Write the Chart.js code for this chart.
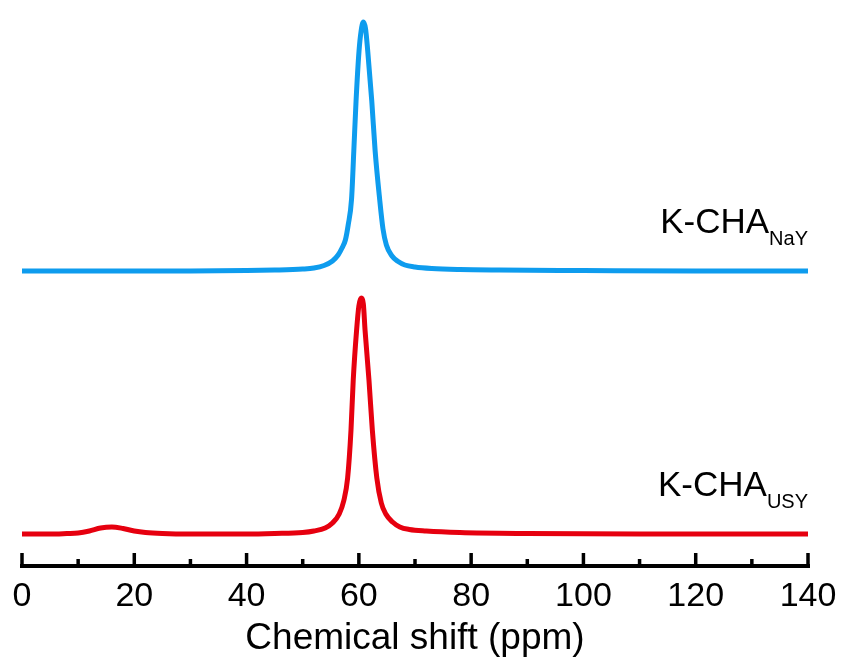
<!DOCTYPE html>
<html>
<head>
<meta charset="utf-8">
<script src="https://cdn.jsdelivr.net/npm/chart.js@4/dist/chart.umd.min.js"></script>
<style>
  html, body { margin: 0; padding: 0; background: #ffffff; }
  #wrap { width: 843px; height: 666px; position: relative; }
</style>
</head>
<body>
<div id="wrap"><canvas id="c" width="843" height="666"></canvas></div>
<script>
// ---- Data ----
const xTickValues = [0, 20, 40, 60, 80, 100, 120, 140];
const xMinorTickValues = [10, 30, 50, 70, 90, 110, 130];
const xTitle = 'Chemical shift (ppm)';

// K-CHA(NaY) spectrum: chemical shift (ppm) and intensity above its own baseline
const nayShift = [0, 10, 20, 30, 40, 45, 50, 52, 53.8, 55.3, 56.3, 57.0, 57.6, 58.1, 58.7, 59.1, 59.5, 60.03, 60.4, 60.8, 61.2, 61.58, 62.3, 62.9, 63.7, 64.3, 64.9, 65.9, 67, 68.2, 70, 73, 78, 85, 100, 120, 140];
const nayIntensity = [0, 0, 0, 0, 0.5, 1, 2, 3, 5.5, 10, 16, 23, 31, 46, 72, 120, 170, 220, 240, 249, 242, 220, 170, 120, 72, 42, 26, 15, 9.5, 6, 4, 2.5, 1.5, 1, 0.5, 0, 0];
const nayOffset = 295;

// K-CHA(USY) spectrum
const usyShift = [0, 5, 8, 10, 12, 14, 16, 18, 20, 22, 25, 30, 40, 45, 50, 52, 54, 55.3, 56.5, 57.3, 58.0, 58.6, 59.0, 59.6, 60.0, 60.4, 60.8, 61.1, 61.8, 62.4, 63.2, 64.0, 64.8, 66, 67.3, 69, 72, 78, 90, 110, 140];
const usyIntensity = [0, 0, 0.5, 1, 3, 6, 7, 5.5, 3, 1.5, 0.5, 0, 0, 0.5, 1.5, 3, 6, 11, 20, 33, 56, 104, 154, 204, 228, 236, 230, 204, 154, 104, 56, 31, 20, 12, 7, 4.5, 3, 1.5, 0.5, 0, 0];
const usyOffset = 32;

const seriesMain = ['K-CHA', 'K-CHA'];
const seriesSub = ['NaY', 'USY'];
const seriesColors = ['#0E9CEE', '#E6000F'];

// ---- Build datasets ----
function pts(xs, ys, off) { return xs.map((x, i) => ({ x: x, y: ys[i] + off })); }

const FONT = '"Liberation Sans", Arial, Helvetica, sans-serif';

const axisPlugin = {
  id: 'axisPlugin',
  afterDraw(chart) {
    const ctx = chart.ctx;
    const xs = chart.scales.x;
    const ys = chart.scales.y;
    const yb = chart.chartArea.bottom;
    ctx.save();
    ctx.strokeStyle = '#000';
    ctx.lineWidth = 4;
    ctx.lineCap = 'butt';
    ctx.beginPath();
    ctx.moveTo(xs.getPixelForValue(xTickValues[0]) - 2, yb);
    ctx.lineTo(xs.getPixelForValue(xTickValues[xTickValues.length - 1]) + 2, yb);
    ctx.stroke();
    ctx.lineWidth = 3.5;
    xTickValues.forEach(v => {
      const px = xs.getPixelForValue(v);
      ctx.beginPath(); ctx.moveTo(px, yb); ctx.lineTo(px, yb - 13); ctx.stroke();
    });
    xMinorTickValues.forEach(v => {
      const px = xs.getPixelForValue(v);
      ctx.beginPath(); ctx.moveTo(px, yb); ctx.lineTo(px, yb - 7); ctx.stroke();
    });

    // series labels, right-aligned at the right end of the axis
    const offsets = [nayOffset, usyOffset];
    const right = xs.getPixelForValue(xTickValues[xTickValues.length - 1]);
    ctx.fillStyle = '#000';
    ctx.textBaseline = 'alphabetic';
    offsets.forEach((off, i) => {
      const base = ys.getPixelForValue(off);
      ctx.font = '20px ' + FONT;
      const sw = ctx.measureText(seriesSub[i]).width;
      ctx.textAlign = 'right';
      ctx.fillText(seriesSub[i], right, base - 26);
      ctx.font = '35px ' + FONT;
      ctx.fillText(seriesMain[i], right - sw, base - 38);
    });
    ctx.restore();
  }
};

new Chart(document.getElementById('c'), {
  type: 'line',
  data: {
    datasets: [
      { label: seriesMain[0] + seriesSub[0], data: pts(nayShift, nayIntensity, nayOffset), borderColor: seriesColors[0], borderWidth: 5, pointRadius: 0, cubicInterpolationMode: 'monotone', fill: false },
      { label: seriesMain[1] + seriesSub[1], data: pts(usyShift, usyIntensity, usyOffset), borderColor: seriesColors[1], borderWidth: 5, pointRadius: 0, cubicInterpolationMode: 'monotone', fill: false }
    ]
  },
  options: {
    responsive: false,
    animation: false,
    devicePixelRatio: 1,
    layout: { padding: { left: 22, right: 35, top: 6, bottom: 5 } },
    plugins: { legend: { display: false }, tooltip: { enabled: false } },
    scales: {
      x: {
        type: 'linear',
        min: 0, max: 140,
        grid: { display: false, drawTicks: false, tickLength: 0 },
        border: { display: false },
        afterBuildTicks: (s) => { s.ticks = xTickValues.map(v => ({ value: v })); },
        afterFit: (s) => { s.height = 95; s.paddingLeft = 0; s.paddingRight = 0; },
        ticks: { color: '#000', padding: 12, maxRotation: 0, autoSkip: false, font: { family: FONT, size: 34, lineHeight: 1.1 } },
        title: { display: true, text: xTitle, color: '#000', padding: { top: 0, bottom: 0 }, font: { family: FONT, size: 37, lineHeight: 1.2 } }
      },
      y: { type: 'linear', display: false, min: 0, max: 560 }
    }
  },
  plugins: [axisPlugin]
});
</script>
</body>
</html>
